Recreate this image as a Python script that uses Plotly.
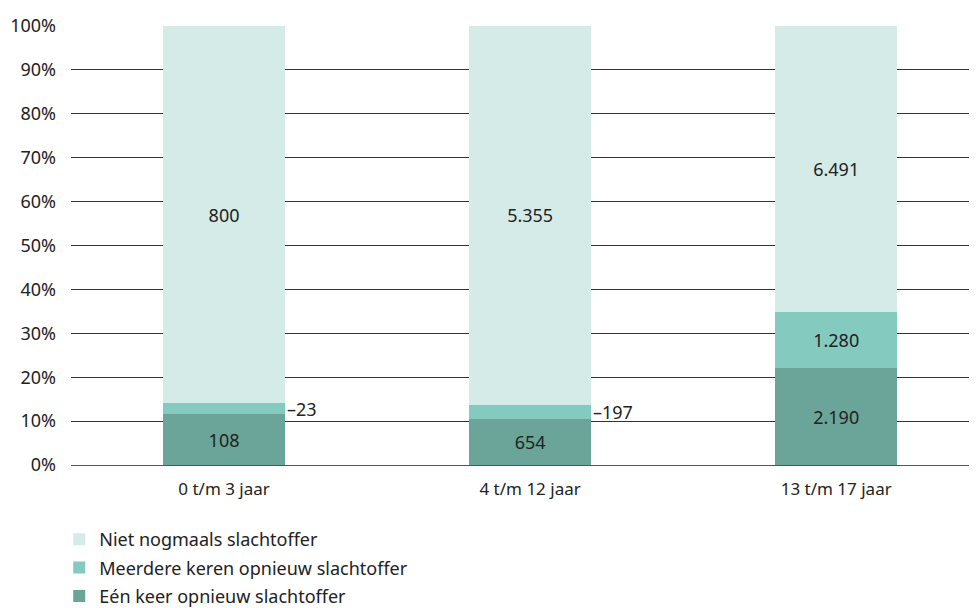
import plotly.graph_objects as go

categories = ["0 t/m 3 jaar", "4 t/m 12 jaar", "13 t/m 17 jaar"]
een_keer = [108, 654, 2190]
meerdere_keren = [23, 197, 1280]
niet_nogmaals = [800, 5355, 6491]

series = [
    ("Eén keer opnieuw slachtoffer", een_keer, "#6ba59a"),
    ("Meerdere keren opnieuw slachtoffer", meerdere_keren, "#84cabf"),
    ("Niet nogmaals slachtoffer", niet_nogmaals, "#d5ebe7"),
]

totals = [a + b + c for a, b, c in zip(een_keer, meerdere_keren, niet_nogmaals)]


def fmt(n):
    return f"{n:,}".replace(",", ".")


FONT = "Noto Sans"
TXT = "#222222"
BAR_W = 0.4

fig = go.Figure()
for k, (name, vals, color) in enumerate(series):
    pct = [v / t * 100 for v, t in zip(vals, totals)]
    # small segments get an outside label instead
    labels = [fmt(v) if p > 5 else "" for v, p in zip(vals, pct)]
    fig.add_trace(go.Bar(
        x=list(range(len(categories))), y=pct, name=name,
        legendgroup=name, legendrank=len(series) - k,
        marker=dict(color=color, line=dict(width=0)),
        width=BAR_W,
        text=labels, textposition="inside", insidetextanchor="middle",
        textfont=dict(family=FONT, size=18, color=TXT),
        hoverinfo="skip",
    ))

# outside labels for the thin "meerdere keren" segments
for i, (a, b) in enumerate(zip(een_keer, meerdere_keren)):
    pa = a / totals[i] * 100
    pb = b / totals[i] * 100
    if pb <= 5:
        fig.add_annotation(
            x=i + BAR_W / 2, y=pa + pb / 2, text="–" + fmt(b),
            showarrow=False, xanchor="left", yanchor="middle",
            font=dict(family=FONT, size=18, color=TXT),
        )

# page body has an 8px margin, so margins are shifted to compensate
fig.update_layout(
    barmode="stack",
    width=977, height=608,
    margin=dict(l=63, r=8, t=18, b=151, autoexpand=False),
    plot_bgcolor="white", paper_bgcolor="white",
    font=dict(family=FONT, size=16, color=TXT),
    showlegend=True,
    legend=dict(
        x=-0.013, y=-0.1276, xanchor="left", yanchor="top",
        traceorder="grouped", font=dict(size=18),
        itemwidth=30, tracegroupgap=2,
    ),
    uniformtext=dict(mode="show", minsize=10),
)
fig.update_xaxes(
    tickmode="array", tickvals=list(range(len(categories))), ticktext=categories,
    range=[-0.5, 2.46], showgrid=False, zeroline=False, showline=False,
    ticks="", tickfont=dict(size=17), automargin=False,
    ticklabelstandoff=12,
)
fig.update_yaxes(
    range=[0, 100], dtick=10, ticksuffix="%",
    showgrid=True, gridcolor="#333333", gridwidth=1,
    zeroline=True, zerolinecolor="#555555", zerolinewidth=1,
    showline=False, ticks="", tickfont=dict(size=18),
    ticklabelstandoff=14, automargin=False,
)

fig.write_html("out.html")
